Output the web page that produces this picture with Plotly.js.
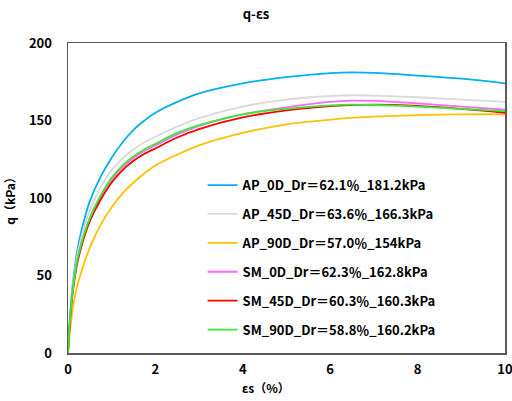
<!DOCTYPE html>
<html><head><meta charset="utf-8">
<script src="https://cdn.plot.ly/plotly-3.0.1.min.js"></script>
<style>body{margin:0;padding:0;background:#fff}#chart{width:512px;height:401px}</style>
</head><body><div id="chart"></div>
<script>
const xs = [0,0.05,0.1,0.2,0.3,0.5,0.75,1,1.25,1.5,1.75,2,2.5,3,4,5,6,6.5,7,8,9,10];
const names = ["AP_0D_Dr＝62.1％_181.2kPa","AP_45D_Dr＝63.6％_166.3kPa","AP_90D_Dr＝57.0％_154kPa","SM_0D_Dr＝62.3％_162.8kPa","SM_45D_Dr＝60.3％_160.3kPa","SM_90D_Dr＝58.8％_160.2kPa"];
const colors = ["#00B0F0","#D9D9D9","#FFC000","#FF66FF","#FF0000","#33EE33"];
const ap0  = [0,25,42,64,78,98,114,126,136,144,150,155,162,167.5,174,178,180.5,181,180.7,179,177,174];
const ap45 = [0,24,40,61,74,92,107,118,125.5,131.5,136,139.5,146,151.5,159,163.5,165.8,166.3,166,165,163.5,162];
const ap90 = [0,15,27,42,52,68,83,94,103,110,116,121,128,134,142,147.5,150.5,151.8,152.5,153.5,154,154];
const sm0  = [0,23,38,58,70,87,101,112,120,126,130.5,134,141,146.5,154,158.5,162,162.8,162.6,161,159,157];
const sm45 = [0,22,37,56,68,85,99,110,118,124,128.5,132,139,144.5,152,156.5,159.3,160,160.3,159.5,157.5,155];
const sm90 = [0,23,38,58,70,87,102,113,121,127,131.5,135,142,147,154,157.5,159.7,160.2,160,159,157.5,156];
const series = [ap0, ap45, ap90, sm0, sm45, sm90];
const xTicks = [0,2,4,6,8,10];
const yTicks = [0,50,100,150,200];
const fontFam = "Noto Sans CJK SC";
const traces = series.map((ys,i)=>({
  x: xs, y: ys, type:'scatter', mode:'lines', name:names[i],
  legendgroup:'g'+i,
  line:{color:colors[i], width:1.8, shape:'spline', smoothing:1}
}));
const layout = {
  width:512, height:401,
  margin:{l:68, r:7, t:43, b:48},
  paper_bgcolor:'#fff', plot_bgcolor:'#fff',
  font:{family:fontFam, size:12, color:'#000', weight:'bold'},
  title:{text:'q-εs', x:0.5, xanchor:'center', y:0.965, yanchor:'middle', font:{family:fontFam, size:13, weight:'bold', color:'#000'}},
  xaxis:{range:[0,10], tickvals:xTicks, ticktext:xTicks.map(String), showgrid:false, zeroline:false,
    showline:true, mirror:true, linecolor:'#595959', linewidth:1.5, ticks:'', ticklabeloverflow:'allow',
    ticklabelstandoff:4, tickfont:{size:13, weight:'bold'}},
  yaxis:{range:[0,200], tickvals:yTicks, ticktext:yTicks.map(String), showgrid:false, zeroline:false,
    showline:true, mirror:true, linecolor:'#595959', linewidth:1.5, ticks:'',
    ticklabelstandoff:12, tickfont:{size:13, weight:'bold'},
    title:{text:'q（kPa）', standoff:10, font:{size:12, weight:'bold'}}},
  annotations:[{text:'εs（%）', xref:'paper', yref:'paper', x:0.453, y:-0.11, xanchor:'center', yanchor:'middle',
    showarrow:false, font:{size:12, weight:'bold', color:'#000'}}],
  legend:{x:0.308, y:0.59, xanchor:'left', yanchor:'top', bgcolor:'rgba(0,0,0,0)',
    font:{size:13, weight:'bold', color:'#000'}, tracegroupgap:9, itemwidth:30},
  showlegend:true
};
Plotly.newPlot('chart', traces, layout, {displayModeBar:false, staticPlot:true});
</script></body></html>
